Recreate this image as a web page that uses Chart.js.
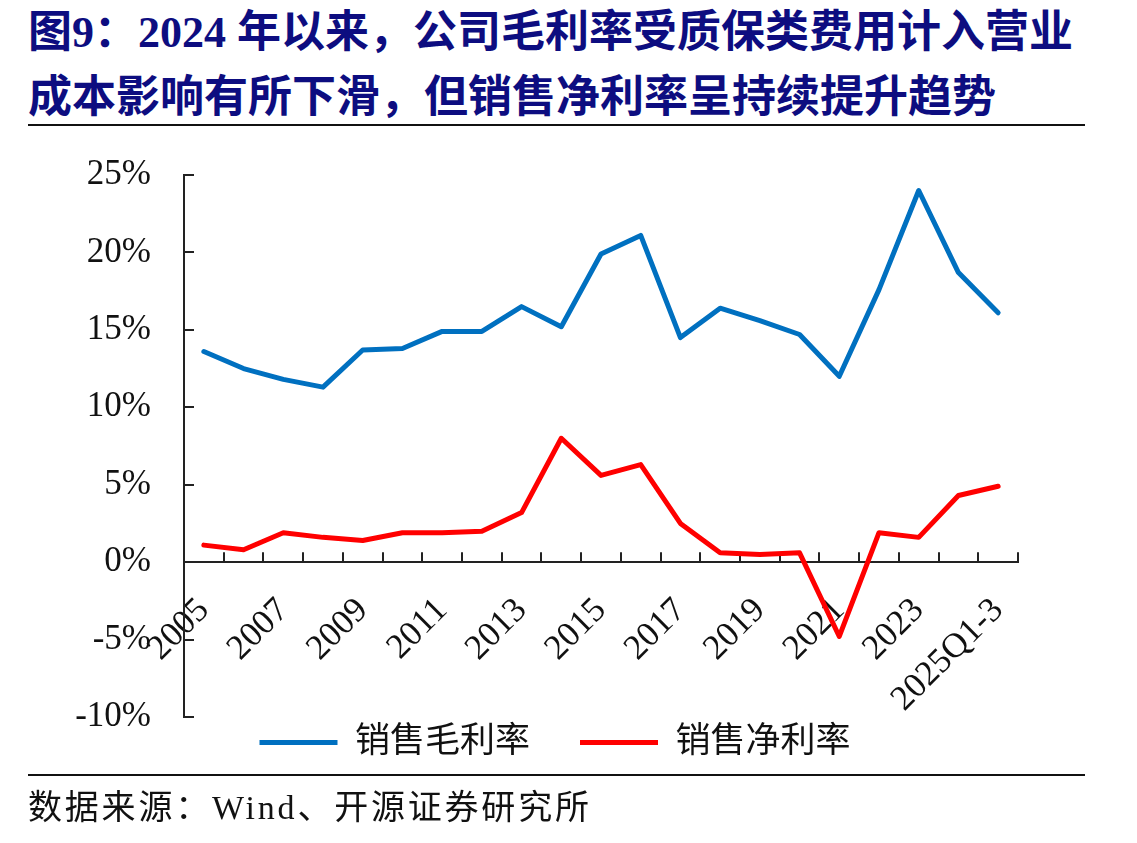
<!DOCTYPE html>
<html>
<head>
<meta charset="utf-8">
<script src="https://cdn.jsdelivr.net/npm/chart.js@4.4.1/dist/chart.umd.min.js"></script>
<style>
  html, body { margin: 0; padding: 0; background: #fff; }
  body { width: 1137px; height: 843px; position: relative; overflow: hidden; }
  .title { position: absolute; left: 28px; top: 0px; font-family: 'Liberation Serif', 'Noto Sans CJK SC', serif; font-weight: bold; font-size: 44px; line-height: 65px; color: #0d0d80; white-space: nowrap; }
  .rule { position: absolute; left: 28px; width: 1057px; height: 2px; background: #111; }
  .source { position: absolute; left: 28px; top: 788px; font-family: 'Liberation Serif', 'Noto Sans CJK SC', serif; font-size: 34px; line-height: 40px; color: #111; white-space: nowrap; letter-spacing: 2.8px; }
  #wrap { position: absolute; left: 0; top: 130px; width: 1137px; height: 713px; }
</style>
</head>
<body>
<div class="title">图9：2024 年以来，公司毛利率受质保类费用计入营业<br>成本影响有所下滑，但销售净利率呈持续提升趋势</div>
<div class="rule" style="top:124px"></div>
<div id="wrap"><canvas id="c"></canvas></div>
<div class="rule" style="top:774px"></div>
<div class="source">数据来源：Wind、开源证券研究所</div>
<script>
const categories = ['2005','2006','2007','2008','2009','2010','2011','2012','2013','2014','2015','2016','2017','2018','2019','2020','2021','2022','2023','2024','2025Q1-3'];
const grossMargin = [13.6, 12.5, 11.8, 11.3, 13.7, 13.8, 14.9, 14.9, 16.5, 15.2, 19.9, 21.1, 14.5, 16.4, 15.6, 14.7, 12.0, 17.6, 24.0, 18.7, 16.1];
const netMargin = [1.1, 0.8, 1.9, 1.6, 1.4, 1.9, 1.9, 2.0, 3.2, 8.0, 5.6, 6.3, 2.5, 0.6, 0.5, 0.6, -4.8, 1.9, 1.6, 4.3, 4.9];
const seriesNames = ['销售毛利率', '销售净利率'];
const yTicks = [-10, -5, 0, 5, 10, 15, 20, 25];

const FONT = "'Liberation Serif', 'Noto Sans CJK SC', serif";
const AXIS = '#222';

const innerTicks = {
  id: 'innerTicks',
  beforeDatasetsDraw(chart) {
    const {ctx, chartArea, scales: {x, y}} = chart;
    ctx.save();
    ctx.strokeStyle = AXIS;
    ctx.lineWidth = 2;
    ctx.beginPath();
    yTicks.forEach(v => {
      const py = Math.round(y.getPixelForValue(v));
      ctx.moveTo(chartArea.left, py);
      ctx.lineTo(chartArea.left + 10, py);
    });
    const y0 = y.getPixelForValue(0);
    for (let i = 0; i < categories.length; i++) {
      const px = Math.round(x.getPixelForValue(i + 0.5));
      ctx.moveTo(px, y0);
      ctx.lineTo(px, y0 - 10);
    }
    ctx.stroke();
    ctx.restore();
  }
};

const legendShift = {
  id: 'legendShift',
  afterLayout(chart) {
    const lg = chart.legend;
    if (!lg) return;
    const dx = 46, dy = -42;
    lg.left += dx; lg.right += dx;
    lg.top += dy; lg.bottom += dy;
  }
};

new Chart(document.getElementById('c'), {
  type: 'line',
  data: {
    labels: categories,
    datasets: [
      { label: seriesNames[0], data: grossMargin, borderColor: '#0070c0', backgroundColor: '#0070c0', borderWidth: 5, pointRadius: 0, tension: 0, borderCapStyle: 'round', borderJoinStyle: 'round' },
      { label: seriesNames[1], data: netMargin, borderColor: '#ff0000', backgroundColor: '#ff0000', borderWidth: 5, pointRadius: 0, tension: 0, borderCapStyle: 'round', borderJoinStyle: 'round' }
    ]
  },
  options: {
    responsive: true,
    maintainAspectRatio: false,
    animation: false,
    layout: { padding: { left: 0, right: 119, top: 45, bottom: 31 } },
    plugins: {
      tooltip: { enabled: false },
      legend: {
        position: 'bottom',
        labels: {
          usePointStyle: true,
          pointStyle: 'line',
          pointStyleWidth: 78,
          padding: 50,
          color: '#111',
          font: { family: FONT, size: 35 }
        }
      }
    },
    scales: {
      x: {
        type: 'category',
        position: { y: 0 },
        offset: true,
        grid: { display: false, drawTicks: false },
        border: { display: true, color: AXIS, width: 2 },
        ticks: {
          autoSkip: false,
          minRotation: 45,
          maxRotation: 45,
          padding: 28,
          color: '#111',
          font: { family: FONT, size: 35 },
          callback: (v, i) => (i % 2 === 0 ? categories[i] : '')
        }
      },
      y: {
        min: -10,
        max: 25,
        afterFit(scale) { scale.width = 184; },
        afterBuildTicks(scale) { scale.ticks = yTicks.map(v => ({ value: v })); },
        grid: { display: false, drawTicks: true, tickLength: 30 },
        border: { display: true, color: AXIS, width: 2 },
        ticks: {
          padding: 3,
          color: '#111',
          font: { family: FONT, size: 35 },
          callback: v => v + '%'
        }
      }
    }
  },
  plugins: [innerTicks, legendShift]
});
</script>
</body>
</html>
